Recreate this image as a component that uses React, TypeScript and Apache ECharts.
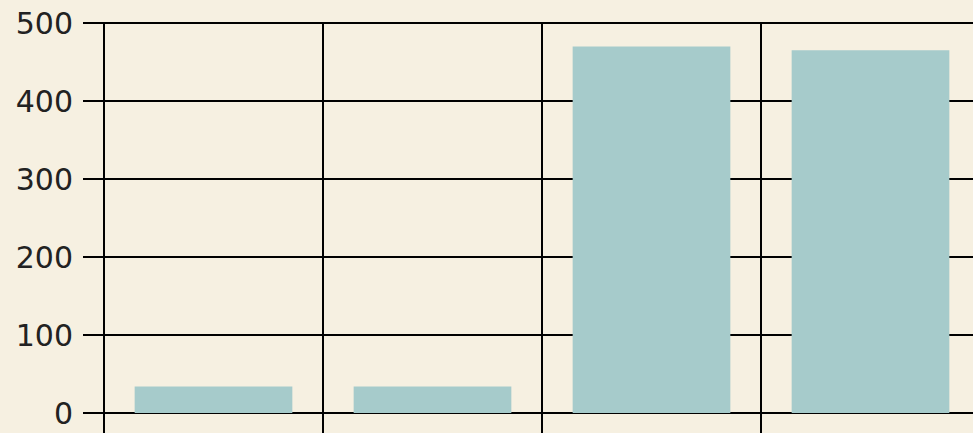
import React, { useEffect, useRef } from "react";
import * as echarts from "echarts";

const categories = ["A", "B", "C", "D"];
const values = [34, 34, 470, 465];
const yTicks = { min: 0, max: 500, interval: 100 };

export default function App() {
  const ref = useRef<HTMLDivElement>(null);
  useEffect(() => {
    if (!ref.current) return;
    const chart = echarts.init(ref.current, undefined, { renderer: "svg" });
    const line = { color: "#000000", width: 2 };
    chart.setOption({
      animation: false,
      backgroundColor: "#f6f0e1",
      grid: { left: 104, top: 23, right: 0, bottom: 20, containLabel: false },
      xAxis: {
        type: "category",
        data: categories,
        boundaryGap: true,
        axisLine: { show: true, lineStyle: line },
        axisTick: { show: true, length: 30, lineStyle: line },
        axisLabel: { show: false },
        splitLine: { show: true, lineStyle: line },
      },
      yAxis: {
        type: "value",
        min: yTicks.min,
        max: yTicks.max,
        interval: yTicks.interval,
        axisLine: { show: true, lineStyle: line },
        axisTick: { show: true, inside: false, length: 21, lineStyle: line },
        axisLabel: {
          fontSize: 30,
          color: "#222222",
          margin: 31,
          fontFamily: "DejaVu Sans",
        },
        splitLine: { show: true, lineStyle: line },
      },
      series: [
        {
          type: "bar",
          data: values,
          barWidth: "72%",
          itemStyle: { color: "#a6cbcb" },
          z: 5,
        },
      ],
    });
    return () => chart.dispose();
  }, []);
  return (
    <div
      style={{
        position: "absolute",
        left: 0,
        top: 0,
        width: 973,
        height: 433,
        overflow: "hidden",
      }}
    >
      <div ref={ref} style={{ width: 980, height: 433 }} />
    </div>
  );
}
